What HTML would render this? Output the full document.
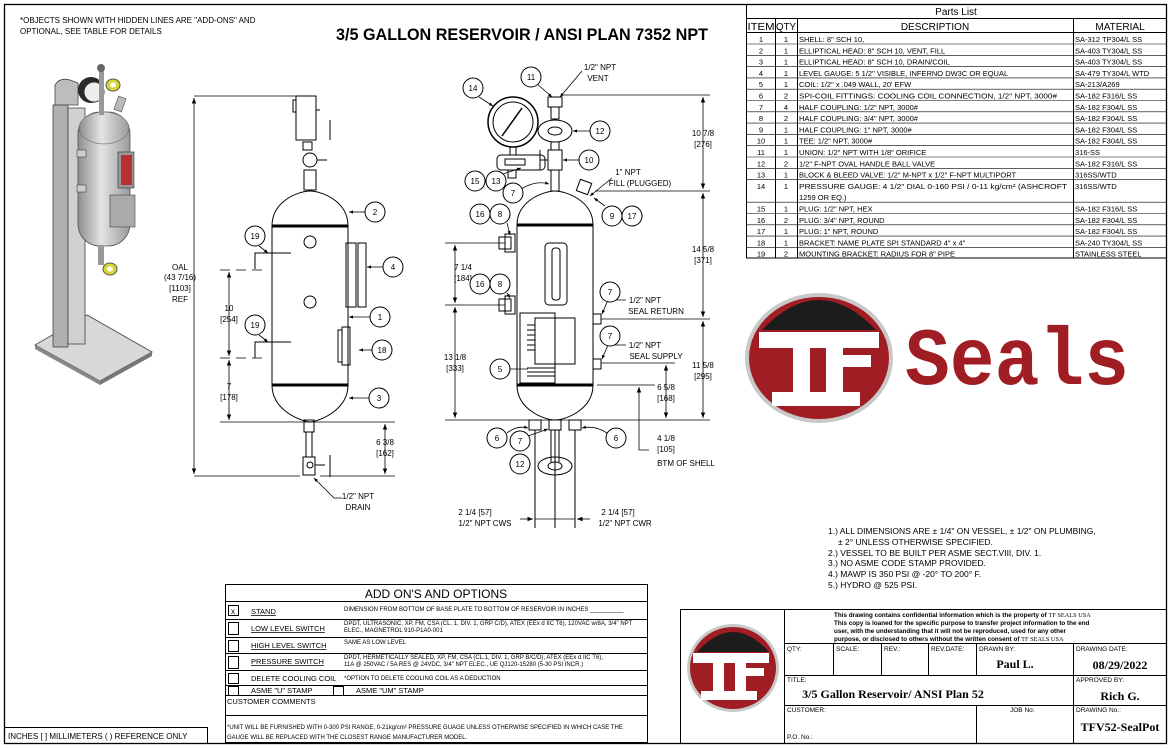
<!DOCTYPE html>
<html><head><meta charset="utf-8"><style>
html,body{margin:0;padding:0;background:#fff;}
svg{display:block;font-family:"Liberation Sans",Arial,sans-serif;}
</style></head><body>
<svg width="1170" height="750" viewBox="0 0 1170 750" xmlns="http://www.w3.org/2000/svg">
<defs>
<linearGradient id="vg" x1="0" x2="1"><stop offset="0" stop-color="#8d8d8d"/><stop offset=".45" stop-color="#e4e4e4"/><stop offset="1" stop-color="#9a9a9a"/></linearGradient>
<marker id="ar" viewBox="0 0 10 10" refX="10" refY="5" markerWidth="7" markerHeight="7" orient="auto-start-reverse"><path d="M0,1 L10,5 L0,9 z" fill="#000"/></marker>
<marker id="ar2" viewBox="0 0 10 10" refX="10" refY="5" markerWidth="5" markerHeight="5" orient="auto"><path d="M0,1 L10,5 L0,9 z" fill="#000"/></marker>
</defs>
<rect x="4.5" y="4.5" width="1162" height="739" fill="none" stroke="#000" stroke-width="1.3"/>

<text x="20" y="23" font-size="8">*OBJECTS SHOWN WITH HIDDEN LINES ARE "ADD-ONS" AND</text>
<text x="20" y="34" font-size="8">OPTIONAL, SEE TABLE FOR DETAILS</text>
<text x="336" y="40" font-size="17" font-weight="bold" textLength="372" lengthAdjust="spacingAndGlyphs">3/5 GALLON RESERVOIR / ANSI PLAN 7352 NPT</text>

<g>
<polygon points="35,345 87,315 152,352 100,381" fill="#d8d8d8" stroke="#555" stroke-width="1"/>
<polygon points="35,345 100,381 100,385 35,349" fill="#888"/>
<polygon points="100,381 152,352 152,356 100,385" fill="#777"/>
<path d="M55,85 q5,-8 15,-5 l8,3 v22 h-23z" fill="#bdbdbd" stroke="#444" stroke-width=".8"/>
<rect x="53" y="105" width="15" height="242" fill="#b0b0b0" stroke="#444" stroke-width=".8"/>
<rect x="68" y="108" width="17" height="236" fill="#d0d0d0" stroke="#444" stroke-width=".8"/>
<rect x="78" y="112" width="52" height="134" rx="22" fill="url(#vg)" stroke="#555" stroke-width=".8"/>
<ellipse cx="104" cy="128" rx="25" ry="16" fill="url(#vg)" stroke="#555" stroke-width=".5"/>
<circle cx="91" cy="90" r="13" fill="#2a2a2a"/>
<circle cx="94" cy="92" r="10" fill="#eee" stroke="#333"/>
<rect x="99" y="70" width="5" height="45" fill="#999"/>
<circle cx="101" cy="68" r="4" fill="#666"/>
<ellipse cx="113" cy="85" rx="7" ry="6" fill="#d7d733" stroke="#555"/>
<ellipse cx="113" cy="85" rx="3" ry="2.5" fill="#fff"/>
<rect x="116" y="97" width="8" height="14" fill="#bbb" stroke="#555" stroke-width=".6" transform="rotate(20 120 104)"/>
<rect x="118" y="152" width="16" height="36" fill="#999" stroke="#333" stroke-width=".6"/>
<rect x="121" y="155" width="11" height="30" fill="#b53030"/>
<rect x="110" y="195" width="25" height="32" fill="#aaa" stroke="#444" stroke-width=".6"/>
<rect x="98" y="245" width="6" height="20" fill="#999"/>
<ellipse cx="110" cy="269" rx="7" ry="6" fill="#d7d733" stroke="#555"/>
<ellipse cx="110" cy="269" rx="3" ry="2.5" fill="#fff"/>
<rect x="77" y="150" width="9" height="7" fill="#ccc" stroke="#444" stroke-width=".6"/>
<rect x="77" y="185" width="9" height="7" fill="#ccc" stroke="#444" stroke-width=".6"/>
</g>

<g fill="none" stroke="#000" stroke-width="1">
<path d="M272,226 V385 M348,226 V385"/>
<path d="M272,226 C272,200 300,191 310,191 C320,191 348,200 348,226"/>
<path d="M272,385 C272,410 300,421 310,422 C320,421 348,410 348,385"/>
<line x1="272" y1="226" x2="348" y2="226" stroke-width="3"/>
<line x1="272" y1="385" x2="348" y2="385" stroke-width="3"/>
<circle cx="310" cy="242" r="6"/><circle cx="310" cy="302" r="6"/>
<rect x="346" y="243" width="10" height="64"/><rect x="358" y="243" width="8" height="64"/>
<rect x="342" y="327" width="8" height="38"/><path d="M342,330 h-4 v32 h4"/>
<rect x="296" y="96" width="20" height="44"/><path d="M296,100 h-3 v12 h3 M316,110 h4 M330,120 v20"/>
<rect x="303" y="142" width="9" height="8"/><circle cx="310" cy="160" r="7"/><path d="M317,160 h10 M304,170 h12 v20 h-12z"/>
<rect x="304" y="420" width="10" height="12"/><rect x="306" y="432" width="6" height="25"/>
<rect x="303" y="457" width="12" height="18"/><circle cx="310" cy="465" r="3"/><path d="M315,465 h10 M330,455 v22"/>
<path d="M258,253 h-3 v16 M258,253 h33 M258,342 h-3 v16 M258,342 h33"/>
</g>
<g stroke="#000" stroke-width=".8" fill="none">
<line x1="194" y1="96" x2="300" y2="96"/><line x1="194" y1="476" x2="300" y2="476"/>
<line x1="194" y1="98" x2="194" y2="474" marker-start="url(#ar)" marker-end="url(#ar)"/>
<line x1="220" y1="270" x2="265" y2="270" stroke-dasharray="10,6"/><line x1="220" y1="358" x2="265" y2="358" stroke-dasharray="10,6"/>
<line x1="229" y1="272" x2="229" y2="356" marker-start="url(#ar)" marker-end="url(#ar)"/>
<line x1="229" y1="360" x2="229" y2="420" marker-start="url(#ar)" marker-end="url(#ar)"/>
<line x1="220" y1="422" x2="395" y2="422"/><line x1="320" y1="476" x2="395" y2="476"/>
<line x1="385" y1="424" x2="385" y2="474" marker-start="url(#ar)" marker-end="url(#ar)"/>
<path d="M342,498 h-8 l-20,-20" marker-end="url(#ar2)"/>
</g>
<g font-size="8" text-anchor="middle">
<text x="180" y="270">OAL</text><text x="180" y="280">(43 7/16)</text><text x="180" y="291">[1103]</text><text x="180" y="302">REF</text>
<text x="229" y="311">10</text><text x="229" y="322">[254]</text>
<text x="229" y="389">7</text><text x="229" y="400">[178]</text>
<text x="385" y="445">6 3/8</text><text x="385" y="456">[162]</text>
<text x="358" y="499">1/2" NPT</text><text x="358" y="510">DRAIN</text>
</g>

<g fill="none" stroke="#000" stroke-width="1">
<path d="M517,225 V385 M593,225 V385"/>
<path d="M517,225 C517,200 545,191 555,191 C565,191 593,200 593,225"/>
<path d="M517,385 C517,410 545,420 555,420 C565,420 593,410 593,385"/>
<line x1="517" y1="225" x2="593" y2="225" stroke-width="3"/>
<line x1="517" y1="385" x2="593" y2="385" stroke-width="3"/>
<circle cx="513" cy="122" r="25" stroke-width="1.5"/><circle cx="513" cy="122" r="20"/>
<line x1="502" y1="136" x2="522" y2="108" stroke-width="1.5"/>
<rect x="510" y="147" width="6" height="8"/>
<rect x="497" y="155" width="48" height="15" rx="4"/><rect x="505" y="159" width="20" height="6"/><rect x="508" y="170" width="8" height="8"/>
<rect x="548" y="97" width="14" height="10"/><rect x="551" y="107" width="8" height="12"/>
<ellipse cx="555" cy="131" rx="17" ry="11"/><ellipse cx="555" cy="131" rx="7" ry="4"/>
<rect x="551" y="142" width="8" height="8"/><rect x="548" y="150" width="14" height="20"/><path d="M548,160 h-8 v-10 M540,150 v20"/>
<rect x="551" y="170" width="8" height="21"/>
<rect x="578" y="181" width="12" height="12" transform="rotate(20 584 187)"/>
<rect x="499" y="237" width="12" height="12"/><rect x="505" y="234" width="10" height="18"/>
<rect x="499" y="299" width="12" height="12"/><rect x="505" y="296" width="10" height="18"/>
<rect x="545" y="243" width="22" height="62" rx="4"/><rect x="552" y="248" width="8" height="52" rx="3"/>
<rect x="520" y="313" width="35" height="70"/><rect x="535" y="318" width="40" height="46"/>
<path d="M527,325 h8 M527,330 h8 M527,335 h8 M527,340 h8 M527,345 h8 M527,350 h8 M527,368 h28 M527,372 h28 M527,376 h28"/>
<rect x="593" y="314" width="8" height="10"/><rect x="593" y="359" width="8" height="10"/>
<rect x="529" y="420" width="12" height="10"/><rect x="549" y="420" width="12" height="10"/><rect x="569" y="420" width="12" height="10"/>
<path d="M535,430 V528 M555,430 V528 M575,430 V528 M551,430 V462 M559,430 V462"/>
<ellipse cx="555" cy="466" rx="17" ry="9"/><ellipse cx="555" cy="466" rx="7" ry="4"/>
</g>
<g stroke="#000" stroke-width=".8" fill="none">
<line x1="562" y1="95" x2="710" y2="95"/><line x1="595" y1="191" x2="710" y2="191"/>
<line x1="601" y1="319" x2="710" y2="319"/><line x1="601" y1="363" x2="675" y2="363"/>
<line x1="597" y1="385" x2="655" y2="385"/><line x1="445" y1="420" x2="710" y2="420"/>
<line x1="703" y1="97" x2="703" y2="189" marker-start="url(#ar)" marker-end="url(#ar)"/>
<line x1="703" y1="193" x2="703" y2="317" marker-start="url(#ar)" marker-end="url(#ar)"/>
<line x1="703" y1="321" x2="703" y2="418" marker-start="url(#ar)" marker-end="url(#ar)"/>
<line x1="666" y1="365" x2="666" y2="418" marker-start="url(#ar)" marker-end="url(#ar)"/>
<path d="M639,387 V450 h10" marker-start="url(#ar)"/>
<line x1="445" y1="243" x2="505" y2="243"/><line x1="445" y1="305" x2="505" y2="305"/>
<line x1="455" y1="245" x2="455" y2="303" marker-start="url(#ar)" marker-end="url(#ar)"/>
<line x1="455" y1="307" x2="455" y2="418" marker-start="url(#ar)" marker-end="url(#ar)"/>
<line x1="520" y1="519" x2="533" y2="519" marker-end="url(#ar)"/><line x1="590" y1="519" x2="577" y2="519" marker-end="url(#ar)"/>
<line x1="535" y1="519" x2="575" y2="519"/>
<line x1="536" y1="83" x2="552" y2="97" marker-end="url(#ar2)"/>
<path d="M582,71 l-22,26" marker-end="url(#ar2)"/>
<line x1="479" y1="97" x2="493" y2="106" marker-end="url(#ar2)"/>
<line x1="610" y1="131" x2="573" y2="131" marker-end="url(#ar2)"/>
<line x1="579" y1="160" x2="563" y2="160" marker-end="url(#ar2)"/>
<line x1="503" y1="174" x2="521" y2="168" marker-end="url(#ar2)"/>
<path d="M521,189 q15,-9 28,-5" marker-end="url(#ar2)"/>
<path d="M612,178 l-22,18" marker-end="url(#ar2)"/>
<line x1="605" y1="206" x2="594" y2="198" marker-end="url(#ar2)"/>
<line x1="507" y1="223" x2="510" y2="235" marker-end="url(#ar2)"/>
<line x1="507" y1="293" x2="510" y2="298" marker-end="url(#ar2)"/>
<path d="M626,300 h-18 l-6,14" marker-end="url(#ar2)"/>
<path d="M626,345 h-18 l-6,14" marker-end="url(#ar2)"/>
<line x1="510" y1="369" x2="528" y2="369"/>
<path d="M507,433 q10,-8 21,-5" marker-end="url(#ar2)"/>
<path d="M607,433 q-12,-8 -25,-5" marker-end="url(#ar2)"/>
<line x1="528" y1="436" x2="548" y2="429" marker-end="url(#ar2)"/>
</g>
<g font-size="8" text-anchor="middle">
<text x="600" y="70">1/2" NPT</text><text x="598" y="81">VENT</text>
<text x="703" y="136">10 7/8</text><text x="703" y="147">[276]</text>
<text x="628" y="175">1" NPT</text><text x="640" y="186">FILL (PLUGGED)</text>
<text x="703" y="252">14 5/8</text><text x="703" y="263">[371]</text>
<text x="463" y="270">7 1/4</text><text x="463" y="281">[184]</text>
<text x="645" y="303">1/2" NPT</text><text x="656" y="314">SEAL RETURN</text>
<text x="645" y="348">1/2" NPT</text><text x="656" y="359">SEAL SUPPLY</text>
<text x="455" y="360">13 1/8</text><text x="455" y="371">[333]</text>
<text x="703" y="368">11 5/8</text><text x="703" y="379">[295]</text>
<text x="666" y="390">6 5/8</text><text x="666" y="401">[168]</text>
<text x="666" y="441">4 1/8</text><text x="666" y="452">[105]</text><text x="686" y="466">BTM OF SHELL</text>
<text x="475" y="515">2 1/4 [57]</text><text x="485" y="526">1/2" NPT CWS</text>
<text x="618" y="515">2 1/4 [57]</text><text x="625" y="526">1/2" NPT CWR</text>
</g>

<g fill="#fff" stroke="#000" stroke-width="1">
<circle cx="375" cy="212" r="10"/><circle cx="393" cy="267" r="10"/><circle cx="380" cy="317" r="10"/><circle cx="382" cy="350" r="10"/><circle cx="379" cy="398" r="10"/><circle cx="255" cy="236" r="10"/><circle cx="255" cy="325" r="10"/>
<circle cx="531" cy="77" r="10"/><circle cx="473" cy="88" r="10"/><circle cx="600" cy="131" r="10"/><circle cx="589" cy="160" r="10"/><circle cx="475" cy="181" r="10"/><circle cx="496" cy="181" r="10"/><circle cx="513" cy="193" r="10"/><circle cx="612" cy="216" r="10"/><circle cx="632" cy="216" r="10"/><circle cx="480" cy="214" r="10"/><circle cx="500" cy="214" r="10"/><circle cx="480" cy="284" r="10"/><circle cx="500" cy="284" r="10"/><circle cx="610" cy="292" r="10"/><circle cx="610" cy="336" r="10"/><circle cx="500" cy="369" r="10"/><circle cx="497" cy="438" r="10"/><circle cx="520" cy="441" r="10"/><circle cx="520" cy="464" r="10"/><circle cx="616" cy="438" r="10"/>
</g>
<g stroke="#000" stroke-width=".8" marker-end="url(#ar2)">
<line x1="365" y1="212" x2="349" y2="212"/><line x1="383" y1="267" x2="367" y2="267"/><line x1="370" y1="317" x2="349" y2="317"/><line x1="372" y1="350" x2="359" y2="350"/><line x1="369" y1="398" x2="349" y2="398"/>
<line x1="259" y1="246" x2="268" y2="253"/><line x1="259" y1="335" x2="268" y2="342"/>
</g>
<g font-size="8" text-anchor="middle">
<text x="375" y="215">2</text><text x="393" y="270">4</text><text x="380" y="320">1</text><text x="382" y="353">18</text><text x="379" y="401">3</text><text x="255" y="239">19</text><text x="255" y="328">19</text>
<text x="531" y="80">11</text><text x="473" y="91">14</text><text x="600" y="134">12</text><text x="589" y="163">10</text><text x="475" y="184">15</text><text x="496" y="184">13</text><text x="513" y="196">7</text><text x="612" y="219">9</text><text x="632" y="219">17</text><text x="480" y="217">16</text><text x="500" y="217">8</text><text x="480" y="287">16</text><text x="500" y="287">8</text><text x="610" y="295">7</text><text x="610" y="339">7</text><text x="500" y="372">5</text><text x="497" y="441">6</text><text x="520" y="444">7</text><text x="520" y="467">12</text><text x="616" y="441">6</text>
</g>

<g stroke="#000" stroke-width="1" fill="none">
<rect x="746.5" y="4.5" width="420" height="253.5"/>
<line x1="746" y1="18.5" x2="1167" y2="18.5"/>
<line x1="746" y1="32.5" x2="1167" y2="32.5"/>
<line x1="775.5" y1="18" x2="775.5" y2="258"/><line x1="797.5" y1="18" x2="797.5" y2="258"/><line x1="1073.5" y1="18" x2="1073.5" y2="258"/>
</g>
<g stroke="#000" stroke-width=".6">
<line x1="746" y1="44" x2="1167" y2="44"/><line x1="746" y1="55.3" x2="1167" y2="55.3"/><line x1="746" y1="66.6" x2="1167" y2="66.6"/><line x1="746" y1="77.9" x2="1167" y2="77.9"/><line x1="746" y1="89.2" x2="1167" y2="89.2"/><line x1="746" y1="100.5" x2="1167" y2="100.5"/><line x1="746" y1="111.8" x2="1167" y2="111.8"/><line x1="746" y1="123.1" x2="1167" y2="123.1"/><line x1="746" y1="134.4" x2="1167" y2="134.4"/><line x1="746" y1="145.7" x2="1167" y2="145.7"/><line x1="746" y1="157" x2="1167" y2="157"/><line x1="746" y1="168.3" x2="1167" y2="168.3"/><line x1="746" y1="179.6" x2="1167" y2="179.6"/><line x1="746" y1="202.2" x2="1167" y2="202.2"/><line x1="746" y1="213.5" x2="1167" y2="213.5"/><line x1="746" y1="224.8" x2="1167" y2="224.8"/><line x1="746" y1="236.1" x2="1167" y2="236.1"/><line x1="746" y1="247.4" x2="1167" y2="247.4"/>
</g>
<text x="956" y="15" font-size="10" text-anchor="middle">Parts List</text>
<g font-size="10" text-anchor="middle"><text x="761" y="30" textLength="27" lengthAdjust="spacingAndGlyphs">ITEM</text><text x="786" y="30" textLength="20" lengthAdjust="spacingAndGlyphs">QTY</text><text x="935" y="30">DESCRIPTION</text><text x="1120" y="30">MATERIAL</text></g>
<g font-size="7.5">
<g text-anchor="middle">
<text x="761" y="42">1</text><text x="786" y="42">1</text>
<text x="761" y="53.3">2</text><text x="786" y="53.3">1</text>
<text x="761" y="64.6">3</text><text x="786" y="64.6">1</text>
<text x="761" y="75.9">4</text><text x="786" y="75.9">1</text>
<text x="761" y="87.2">5</text><text x="786" y="87.2">1</text>
<text x="761" y="98.5">6</text><text x="786" y="98.5">2</text>
<text x="761" y="109.8">7</text><text x="786" y="109.8">4</text>
<text x="761" y="121.1">8</text><text x="786" y="121.1">2</text>
<text x="761" y="132.4">9</text><text x="786" y="132.4">1</text>
<text x="761" y="143.7">10</text><text x="786" y="143.7">1</text>
<text x="761" y="155">11</text><text x="786" y="155">1</text>
<text x="761" y="166.3">12</text><text x="786" y="166.3">2</text>
<text x="761" y="177.6">13</text><text x="786" y="177.6">1</text>
<text x="761" y="188.9">14</text><text x="786" y="188.9">1</text>
<text x="761" y="211.5">15</text><text x="786" y="211.5">1</text>
<text x="761" y="222.8">16</text><text x="786" y="222.8">2</text>
<text x="761" y="234.1">17</text><text x="786" y="234.1">1</text>
<text x="761" y="245.4">18</text><text x="786" y="245.4">1</text>
<text x="761" y="256.7">19</text><text x="786" y="256.7">2</text>
</g>
<g>
<text x="799" y="42">SHELL: 8" SCH 10,</text><text x="1075" y="42">SA-312 TP304/L SS</text>
<text x="799" y="53.3">ELLIPTICAL HEAD: 8" SCH 10, VENT, FILL</text><text x="1075" y="53.3">SA-403 TY304/L SS</text>
<text x="799" y="64.6">ELLIPTICAL HEAD: 8" SCH 10, DRAIN/COIL</text><text x="1075" y="64.6">SA-403 TY304/L SS</text>
<text x="799" y="75.9">LEVEL GAUGE: 5 1/2" VISIBLE, INFERNO DW3C OR EQUAL</text><text x="1075" y="75.9">SA-479 TY304/L WTD</text>
<text x="799" y="87.2">COIL: 1/2" x .049 WALL, 20' EFW</text><text x="1075" y="87.2">SA-213/A269</text>
<text x="799" y="98.5" textLength="258" lengthAdjust="spacingAndGlyphs">SPI-COIL FITTINGS: COOLING COIL CONNECTION, 1/2" NPT, 3000#</text><text x="1075" y="98.5">SA-182 F316/L SS</text>
<text x="799" y="109.8">HALF COUPLING: 1/2" NPT, 3000#</text><text x="1075" y="109.8">SA-182 F304/L SS</text>
<text x="799" y="121.1">HALF COUPLING: 3/4" NPT, 3000#</text><text x="1075" y="121.1">SA-182 F304/L SS</text>
<text x="799" y="132.4">HALF COUPLING: 1" NPT, 3000#</text><text x="1075" y="132.4">SA-182 F304/L SS</text>
<text x="799" y="143.7">TEE: 1/2" NPT, 3000#</text><text x="1075" y="143.7">SA-182 F304/L SS</text>
<text x="799" y="155">UNION: 1/2" NPT  WITH 1/8" ORIFICE</text><text x="1075" y="155">316-SS</text>
<text x="799" y="166.3">1/2" F-NPT OVAL HANDLE BALL VALVE</text><text x="1075" y="166.3">SA-182 F316/L SS</text>
<text x="799" y="177.6">BLOCK &amp; BLEED VALVE: 1/2" M-NPT x 1/2" F-NPT MULTIPORT</text><text x="1075" y="177.6">316SS/WTD</text>
<text x="799" y="188.9" textLength="268" lengthAdjust="spacingAndGlyphs">PRESSURE GAUGE: 4 1/2" DIAL 0-160 PSI / 0-11 kg/cm² (ASHCROFT</text><text x="1075" y="188.9">316SS/WTD</text>
<text x="799" y="200">1259 OR EQ.)</text>
<text x="799" y="211.5">PLUG: 1/2" NPT, HEX</text><text x="1075" y="211.5">SA-182 F316/L SS</text>
<text x="799" y="222.8">PLUG: 3/4" NPT, ROUND</text><text x="1075" y="222.8">SA-182 F304/L SS</text>
<text x="799" y="234.1">PLUG: 1" NPT,  ROUND</text><text x="1075" y="234.1">SA-182 F304/L SS</text>
<text x="799" y="245.4">BRACKET: NAME PLATE SPI STANDARD 4" x 4"</text><text x="1075" y="245.4">SA-240 TY304/L SS</text>
<text x="799" y="256.7">MOUNTING BRACKET: RADIUS FOR 8" PIPE</text><text x="1075" y="256.7">STAINLESS STEEL</text>
</g></g>

<ellipse cx="819" cy="358" rx="74" ry="65" fill="#c8c8c8"/>
<ellipse cx="819" cy="358" rx="70" ry="61" fill="#a01d23"/>
<path d="M762,330 Q819,270 876,330 Z" fill="#1c1c1c"/>
<rect x="759" y="332" width="120" height="16" fill="#fff"/>
<rect x="793" y="332" width="17" height="60" fill="#fff"/><rect x="826" y="332" width="17" height="60" fill="#fff"/>
<rect x="772" y="392" width="88" height="14" fill="#fff"/>
<rect x="843" y="355" width="28" height="12" fill="#fff"/>
<text x="905" y="384" font-family="Liberation Mono,monospace" font-weight="bold" font-size="82" fill="#a01d23" textLength="224" lengthAdjust="spacingAndGlyphs">Seals</text>

<g font-size="8.5">
<text x="828" y="534">1.) ALL DIMENSIONS ARE ± 1/4" ON VESSEL, ± 1/2" ON PLUMBING,</text>
<text x="838" y="545">± 2° UNLESS OTHERWISE SPECIFIED.</text>
<text x="828" y="556">2.) VESSEL TO BE BUILT PER ASME SECT.VIII, DIV. 1.</text>
<text x="828" y="566">3.) NO ASME CODE STAMP PROVIDED.</text>
<text x="828" y="577">4.) MAWP IS 350 PSI @ -20° TO 200° F.</text>
<text x="828" y="588">5.) HYDRO @ 525 PSI.</text>
</g>

<g stroke="#000" fill="none" stroke-width="1">
<rect x="225.5" y="584.5" width="422" height="158"/>
<path d="M225,601.5 H648 M225,619.5 H648 M225,637.5 H648 M225,653.5 H648 M225,670.5 H648 M225,685.5 H648 M225,695.5 H648 M225,715.5 H648"/>
<rect x="228.5" y="605.5" width="10" height="10"/><rect x="228.5" y="622.5" width="10" height="12"/><rect x="228.5" y="640.5" width="10" height="11"/><rect x="228.5" y="656.5" width="10" height="12"/><rect x="228.5" y="673.5" width="10" height="10"/><rect x="228.5" y="686.5" width="10" height="9"/><rect x="333.5" y="686.5" width="10" height="9"/>
</g>
<text x="231" y="614" font-size="8">x</text>
<text x="436" y="598" font-size="12" text-anchor="middle">ADD ON'S AND OPTIONS</text>
<g font-size="7.5" text-decoration="underline">
<text x="251" y="614">STAND</text><text x="251" y="631">LOW LEVEL SWITCH</text><text x="251" y="648">HIGH LEVEL SWITCH</text><text x="251" y="664">PRESSURE SWITCH</text>
</g>
<g font-size="7.5"><text x="251" y="681">DELETE COOLING COIL</text><text x="251" y="693">ASME "U" STAMP</text><text x="356" y="693">ASME "UM" STAMP</text>
<text x="227" y="704">CUSTOMER COMMENTS</text></g>
<g font-size="6">
<text x="344" y="611">DIMENSION FROM BOTTOM OF BASE PLATE TO BOTTOM OF RESERVOIR IN INCHES __________</text>
<text x="344" y="625">DPDT, ULTRASONIC, XP, FM, CSA (CL. 1, DIV. 1, GRP C/D), ATEX (EEx d IIC T6), 120VAC w/8A, 3/4" NPT</text>
<text x="344" y="632">ELEC., MAGNETROL 910-P1A0-001</text>
<text x="344" y="644">SAME AS LOW LEVEL</text>
<text x="344" y="659">DPDT, HERMETICALLY SEALED, XP, FM, CSA (CL.1, DIV. 1, GRP B/C/D), ATEX (EEx d IIC T6),</text>
<text x="344" y="666">11A @ 250VAC / 5A RES @ 24VDC, 3/4" NPT ELEC., UE QJ120-15280 (5-30 PSI INCR.)</text>
<text x="344" y="680">*OPTION TO DELETE COOLING COIL AS A DEDUCTION</text>
<text x="227" y="729">*UNIT WILL BE FURNISHED WITH 0-300 PSI RANGE, 0-21kg/cm² PRESSURE GUAGE UNLESS OTHERWISE SPECIFIED IN WHICH CASE THE</text>
<text x="227" y="739">GAUGE WILL BE REPLACED WITH THE CLOSEST RANGE MANUFACTURER MODEL.</text>
</g>

<rect x="4.5" y="727.5" width="203" height="16" fill="none" stroke="#000"/>
<text x="8" y="739" font-size="8">INCHES  [ ]  MILLIMETERS  (  )  REFERENCE ONLY</text>

<g stroke="#000" fill="none" stroke-width="1">
<rect x="680.5" y="609.5" width="486" height="134"/>
<line x1="784.5" y1="609" x2="784.5" y2="744"/>
<path d="M784,643.5 H1167 M784,675.5 H1167 M784,705.5 H1167"/>
<path d="M833.5,643 V675 M881.5,643 V675 M928.5,643 V675 M976.5,643 V675 M1073.5,643 V744 M976.5,705 V744"/>
</g>
<g font-family="Liberation Sans,Arial,sans-serif" font-weight="bold" font-size="6.3">
<text x="834" y="617">This drawing contains confidential information which is the property of <tspan font-family="Liberation Serif,serif" font-weight="normal">TF SEALS USA</tspan></text>
<text x="834" y="625">This copy is loaned for the specific purpose to transfer project information to the end</text>
<text x="834" y="633">user, with the understanding that it will not be reproduced, used for any other</text>
<text x="834" y="641">purpose, or disclosed to others without the written consent of  <tspan font-family="Liberation Serif,serif" font-weight="normal">TF SEALS USA</tspan></text>
</g>
<g font-size="6.5">
<text x="787" y="651">QTY:</text><text x="836" y="651">SCALE:</text><text x="884" y="651">REV.:</text><text x="931" y="651">REV.DATE:</text><text x="979" y="651">DRAWN BY:</text><text x="1076" y="651">DRAWING DATE:</text>
<text x="787" y="682">TITLE:</text><text x="1076" y="682">APPROVED BY:</text>
<text x="787" y="712">CUSTOMER:</text><text x="1010" y="712">JOB No:</text><text x="1076" y="712">DRAWING No.:</text>
<text x="787" y="739">P.O. No.:</text>
</g>
<g font-family="Liberation Serif,serif" font-weight="bold">
<text x="1015" y="668" font-size="12" text-anchor="middle">Paul L.</text>
<text x="1120" y="669" font-size="12" text-anchor="middle">08/29/2022</text>
<text x="893" y="698" font-size="12" text-anchor="middle">3/5 Gallon Reservoir/ ANSI Plan 52</text>
<text x="1120" y="700" font-size="12" text-anchor="middle">Rich G.</text>
<text x="1120" y="731" font-size="12" text-anchor="middle">TFV52-SealPot</text>
</g>
<ellipse cx="733" cy="668" rx="46" ry="44" fill="#c8c8c8"/>
<ellipse cx="733" cy="668" rx="43" ry="41" fill="#a01d23"/>
<path d="M697,652 Q733,612 769,652 Z" fill="#1c1c1c"/>
<rect x="693" y="653" width="76" height="10" fill="#fff"/>
<rect x="713" y="653" width="11" height="38" fill="#fff"/><rect x="735" y="653" width="11" height="38" fill="#fff"/>
<rect x="701" y="691" width="56" height="9" fill="#fff"/>
<rect x="746" y="668" width="18" height="8" fill="#fff"/>
</svg>
</body></html>
